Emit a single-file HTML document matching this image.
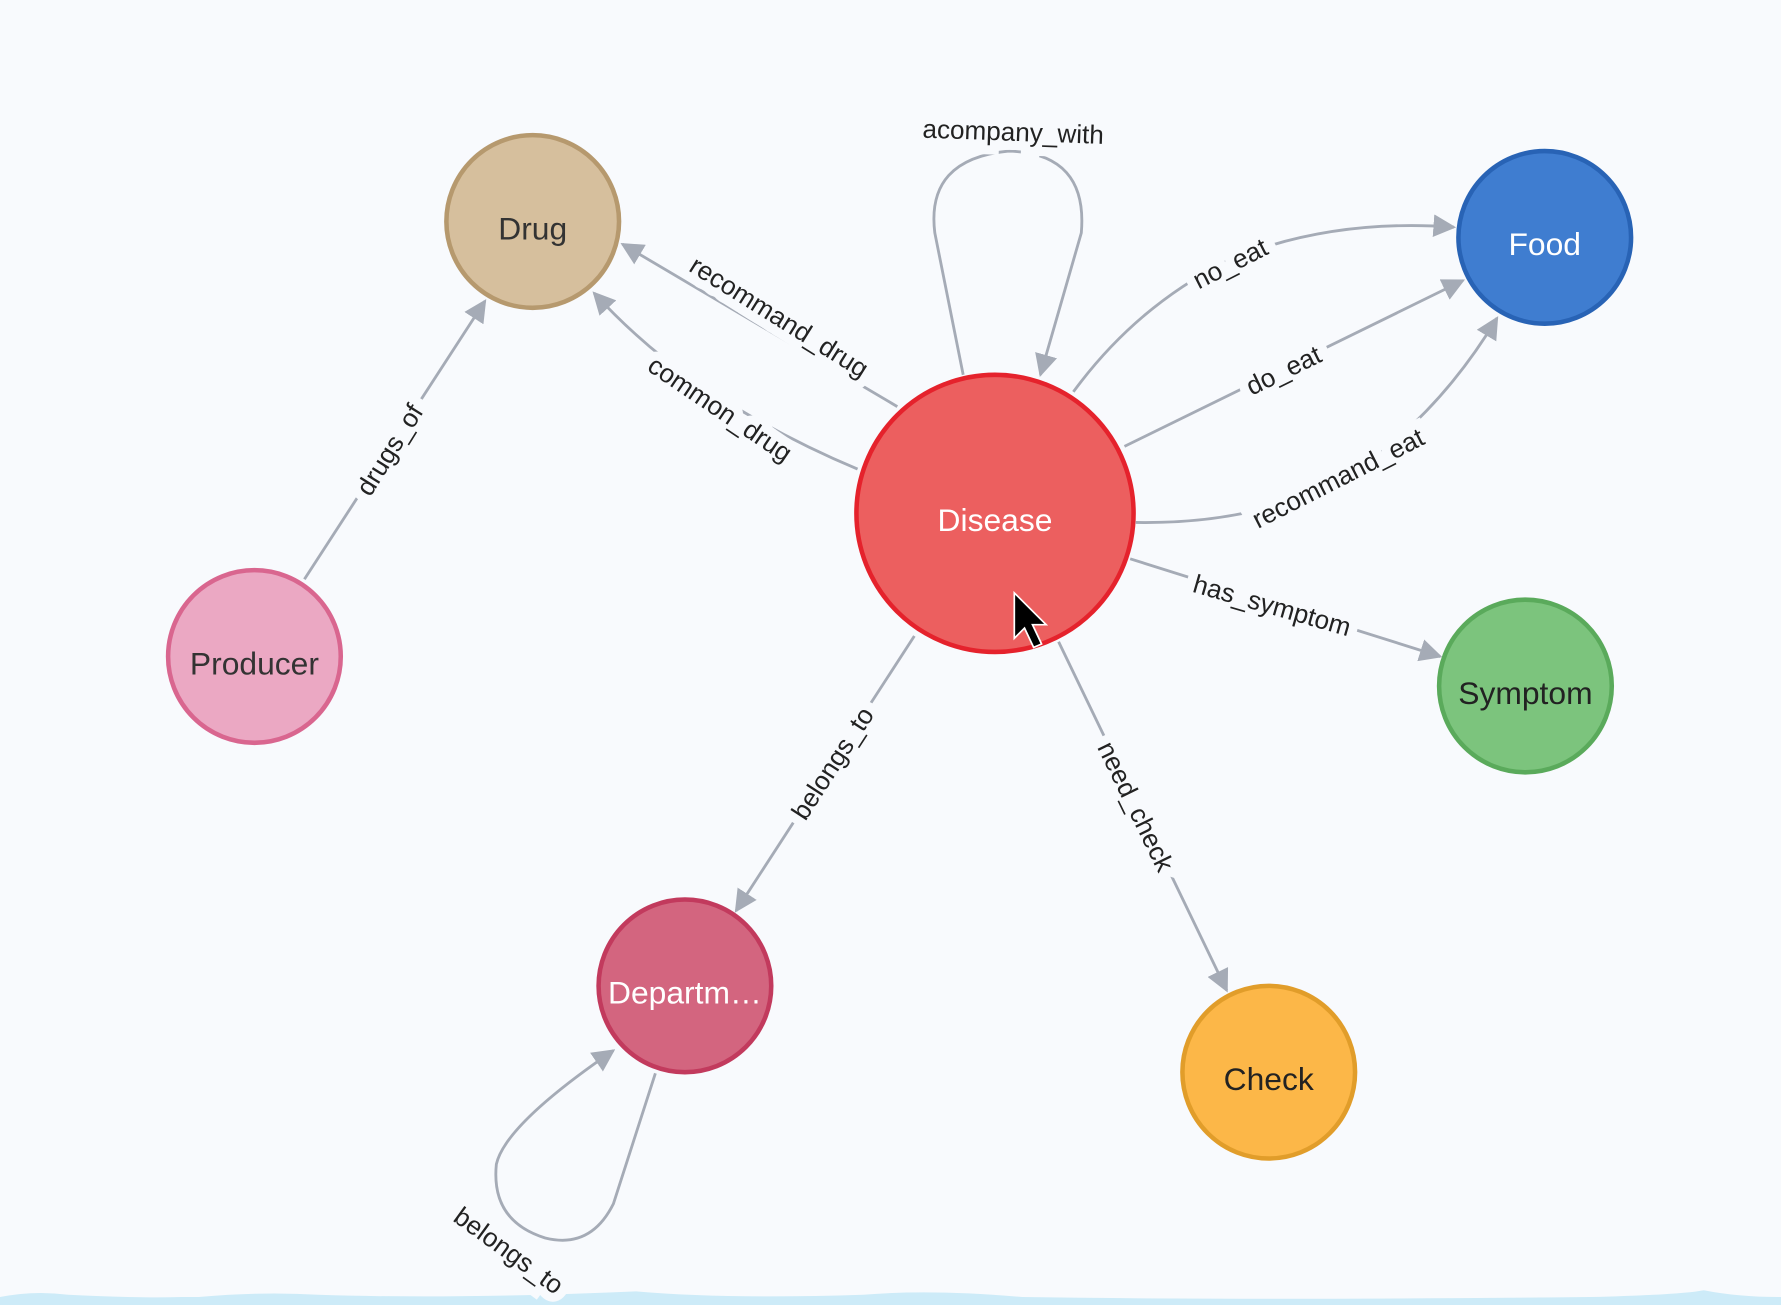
<!DOCTYPE html>
<html><head><meta charset="utf-8"><style>
html,body{margin:0;padding:0;background:#f8fafd;}
svg{display:block}
text{font-family:"Liberation Sans",sans-serif;}
.l{fill:#222;font-size:23px;text-anchor:middle;dominant-baseline:central;stroke:#f8fafd;stroke-width:16px;paint-order:stroke;}
.e{stroke:#a5abb6;stroke-width:2.5;fill:none}
.n{font-size:28px;text-anchor:middle;dominant-baseline:central;}
</style></head><body>
<svg width="1781" height="1305" viewBox="0 0 1568 1149" preserveAspectRatio="none">
<defs>
<marker id="a2" viewBox="0 0 10 10" refX="9" refY="5" markerWidth="20" markerHeight="20" markerUnits="userSpaceOnUse" orient="auto"><path d="M0,0L10,5L0,10z" fill="#a5abb6"/></marker></defs>
<rect width="1568" height="1149" fill="#f8fafd"/>
<path d="M0,1149 L0,1142 Q30,1136 60,1140 Q120,1143 160,1142 L175,1142 Q230,1137 280,1140 Q400,1144 560,1137 Q640,1144 760,1140 Q820,1135 900,1142 Q1100,1145 1400,1142 Q1480,1140 1500,1136 Q1530,1142 1568,1142 L1568,1149Z" fill="#cdebf8"/>
<g class="e" style="marker-end:url(#a2)">
<path d="M790,358 L548,215"/>
<path d="M755,413 Q700,390 650,360 Q580,320 523,258"/>
<path d="M268,510 L427,265"/>
<path d="M848,330 L823,205 Q815,140 888,133 Q958,135 952,205 L916,330"/>
<path d="M945,345 Q1000,270 1080,230 Q1170,192 1280,200"/>
<path d="M990,393 L1288,247"/>
<path d="M1000,460 Q1120,462 1200,410 Q1270,360 1318,280"/>
<path d="M995,492 L1268,578"/>
<path d="M932,565 L1080,872"/>
<path d="M805,560 L648,802"/>
<path d="M577,945 L540,1060 Q520,1100 480,1090 Q432,1075 437,1025 Q445,990 540,925"/>
</g>
<text class="l" transform="translate(686,279) rotate(32)">recommand_drug</text>
<text class="l" transform="translate(634,360) rotate(34)">common_drug</text>
<text class="l" transform="translate(343,396) rotate(-58)">drugs_of</text>
<text class="l" transform="translate(892,116) rotate(2)">acompany_with</text>
<text class="l" transform="translate(1083,232) rotate(-27)">no_eat</text>
<text class="l" transform="translate(1130,326) rotate(-26)">do_eat</text>
<text class="l" transform="translate(1178,421) rotate(-27)">recommand_eat</text>
<text class="l" transform="translate(1120,533) rotate(16)">has_symptom</text>
<text class="l" transform="translate(1000,710) rotate(64)">need_check</text>
<text class="l" transform="translate(733,672) rotate(-57)">belongs_to</text>
<text class="l" transform="translate(448,1101) rotate(36)">belongs_to</text>
<circle cx="876" cy="452" r="122" fill="#ec5f5f" stroke="#e5222c" stroke-width="4"/>
<text class="n" x="876" y="458" fill="#fff">Disease</text>
<circle cx="469" cy="195" r="76" fill="#d6bf9d" stroke="#b6996e" stroke-width="4"/>
<text class="n" x="469" y="201" fill="#333">Drug</text>
<circle cx="1360" cy="209" r="76" fill="#3f7dd0" stroke="#2863b5" stroke-width="4"/>
<text class="n" x="1360" y="215" fill="#fff">Food</text>
<circle cx="224" cy="578" r="76" fill="#eba8c3" stroke="#d9668f" stroke-width="4"/>
<text class="n" x="224" y="584" fill="#333">Producer</text>
<circle cx="1343" cy="604" r="76" fill="#7cc47d" stroke="#5aaa5b" stroke-width="4"/>
<text class="n" x="1343" y="610" fill="#222">Symptom</text>
<circle cx="603" cy="868" r="76" fill="#d3657f" stroke="#c23a5d" stroke-width="4"/>
<text class="n" x="603" y="874" fill="#fff">Departm…</text>
<circle cx="1117" cy="944" r="76" fill="#fcb748" stroke="#e19d2a" stroke-width="4"/>
<text class="n" x="1117" y="950" fill="#222">Check</text>
<path d="M893,522 L893,562 L902,553 L910,570 L917,567 L909,550 L921,550 Z" fill="#000" stroke="#fff" stroke-width="1.5"/>
</svg>
</body></html>
